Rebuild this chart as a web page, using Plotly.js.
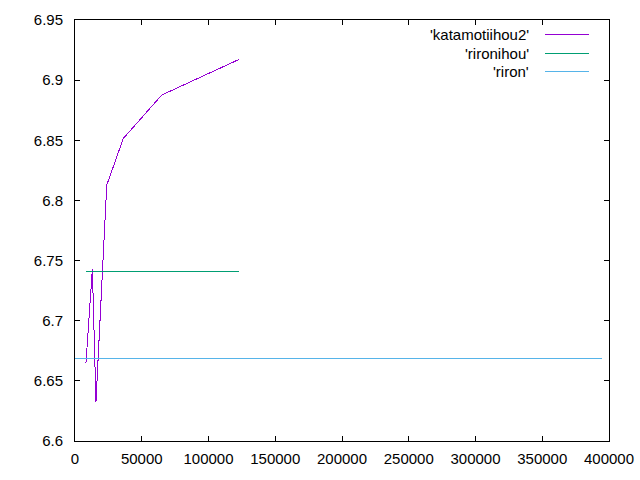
<!DOCTYPE html>
<html>
<head>
<meta charset="utf-8">
<script src="https://cdn.plot.ly/plotly-3.0.1.min.js"></script>
<style>
html,body{margin:0;padding:0;background:#fff;}
#chart{width:640px;height:480px;}
#chart .scatterlayer path, #chart .layer-above path, #chart .xlines-above, #chart .ylines-above, #chart .xtick, #chart .ytick, #chart .crisp {shape-rendering: crispEdges;}
</style>
</head>
<body>
<div id="chart"></div>
<script>
// Data
const seriesNames = ["'katamotiihou2'", "'rironihou'", "'riron'"];
const seriesColors = ["#9400d3", "#009e73", "#56b4e9"];

const katamotiX = [8200, 13000, 15700, 23800, 36200, 65000, 123000];
const katamotiY = [6.6646, 6.7430, 6.6327, 6.8128, 6.8516, 6.8876, 6.9173];

const rironihouX = [8200, 123000];
const rironihouY = [6.7411, 6.7411];

const rironX = [0, 394500];
const rironY = [6.6688, 6.6688];

const xTickVals = [0, 50000, 100000, 150000, 200000, 250000, 300000, 350000, 400000];
const yTickVals = [6.6, 6.65, 6.7, 6.75, 6.8, 6.85, 6.9, 6.95];
const yTickText = ["6.6", "6.65", "6.7", "6.75", "6.8", "6.85", "6.9", "6.95"];

const xs = [katamotiX, rironihouX, rironX];
const ys = [katamotiY, rironihouY, rironY];

const traces = seriesNames.map((n, i) => ({
  x: xs[i], y: ys[i], name: n, type: 'scatter', mode: 'lines',
  line: {color: seriesColors[i], width: 1}, showlegend: false, hoverinfo: 'skip'
}));

const FONT = {family: 'Liberation Sans, Arial, sans-serif', size: 15, color: '#000'};

// custom gnuplot-style legend (text right-aligned, sample line to the right)
const legendRowsY = [0.966, 0.9216, 0.8765];
const annotations = seriesNames.map((n, i) => ({
  xref: 'paper', yref: 'paper', x: 0.854, y: legendRowsY[i],
  xanchor: 'right', yanchor: 'middle', text: n, showarrow: false, font: FONT
}));
const shapes = seriesNames.map((n, i) => ({
  type: 'line', xref: 'paper', yref: 'paper', x0: 0.880, x1: 0.963,
  y0: legendRowsY[i], y1: legendRowsY[i], line: {color: seriesColors[i], width: 1}
}));

const axisCommon = {
  showgrid: false, zeroline: false, showline: true, linecolor: '#000', linewidth: 1,
  mirror: 'ticks', ticks: 'inside', ticklen: 5, tickwidth: 1, tickcolor: '#000',
  tickfont: FONT
};

const layout = {
  width: 640, height: 480,
  margin: {l: 75, r: 31, t: 20, b: 39},
  paper_bgcolor: '#fff', plot_bgcolor: '#fff',
  font: FONT,
  xaxis: Object.assign({}, axisCommon, {
    range: [0, 400000], tickvals: xTickVals, ticktext: xTickVals.map(String),
    ticklabelstandoff: 4
  }),
  yaxis: Object.assign({}, axisCommon, {
    range: [6.6, 6.95], tickvals: yTickVals, ticktext: yTickText,
    ticklabelstandoff: 8
  }),
  annotations: annotations,
  shapes: shapes
};

Plotly.newPlot('chart', traces, layout, {staticPlot: true, displayModeBar: false});
</script>
</body>
</html>
